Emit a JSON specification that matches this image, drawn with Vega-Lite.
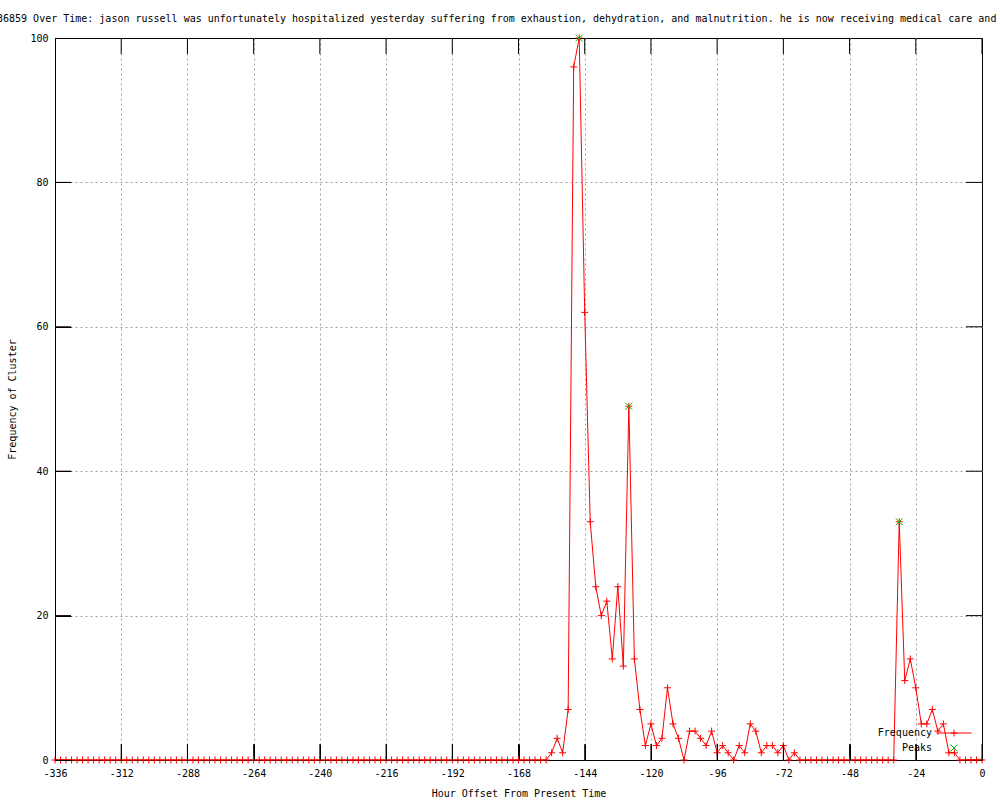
{
  "$schema": "https://vega.github.io/schema/vega-lite/v6.json",
  "autosize": {"type": "none"},
  "width": 927,
  "height": 722,
  "padding": {"left": 55, "top": 38, "right": 18, "bottom": 40},
  "background": "white",
  "config": {
    "view": {"stroke": "black", "strokeWidth": 1},
    "font": "DejaVu Sans Mono",
    "axis": {
      "labelFont": "DejaVu Sans Mono",
      "labelFontSize": 10,
      "labelColor": "black",
      "titleFont": "DejaVu Sans Mono",
      "titleFontSize": 10,
      "titleFontWeight": "normal",
      "titleColor": "black",
      "domainColor": "black",
      "gridColor": "#a0a0a0",
      "gridDash": [2, 3],
      "gridOpacity": 1,
      "gridWidth": 1
    }
  },
  "title": {
    "text": "36859 Over Time: jason russell was unfortunately hospitalized yesterday suffering from exhaustion, dehydration, and malnutrition. he is now receiving medical care and",
    "anchor": "start",
    "frame": "group",
    "font": "DejaVu Sans Mono",
    "fontSize": 10,
    "fontWeight": "normal",
    "color": "black",
    "dx": -58,
    "baseline": "alphabetic",
    "offset": 1
  },
  "datasets": {
    "xticks": [
      {"h": -336}, {"h": -312}, {"h": -288}, {"h": -264}, {"h": -240}, {"h": -216}, {"h": -192}, {"h": -168},
      {"h": -144}, {"h": -120}, {"h": -96}, {"h": -72}, {"h": -48}, {"h": -24}, {"h": 0}
    ],
    "yticks": [
      {"f": 0}, {"f": 20}, {"f": 40}, {"f": 60}, {"f": 80}, {"f": 100}
    ],
    "freq": [
      {"h": -336, "f": 0, "s": "Frequency"}, {"h": -334, "f": 0, "s": "Frequency"}, {"h": -332, "f": 0, "s": "Frequency"}, {"h": -330, "f": 0, "s": "Frequency"},
      {"h": -328, "f": 0, "s": "Frequency"}, {"h": -326, "f": 0, "s": "Frequency"}, {"h": -324, "f": 0, "s": "Frequency"}, {"h": -322, "f": 0, "s": "Frequency"},
      {"h": -320, "f": 0, "s": "Frequency"}, {"h": -318, "f": 0, "s": "Frequency"}, {"h": -316, "f": 0, "s": "Frequency"}, {"h": -314, "f": 0, "s": "Frequency"},
      {"h": -312, "f": 0, "s": "Frequency"}, {"h": -310, "f": 0, "s": "Frequency"}, {"h": -308, "f": 0, "s": "Frequency"}, {"h": -306, "f": 0, "s": "Frequency"},
      {"h": -304, "f": 0, "s": "Frequency"}, {"h": -302, "f": 0, "s": "Frequency"}, {"h": -300, "f": 0, "s": "Frequency"}, {"h": -298, "f": 0, "s": "Frequency"},
      {"h": -296, "f": 0, "s": "Frequency"}, {"h": -294, "f": 0, "s": "Frequency"}, {"h": -292, "f": 0, "s": "Frequency"}, {"h": -290, "f": 0, "s": "Frequency"},
      {"h": -288, "f": 0, "s": "Frequency"}, {"h": -286, "f": 0, "s": "Frequency"}, {"h": -284, "f": 0, "s": "Frequency"}, {"h": -282, "f": 0, "s": "Frequency"},
      {"h": -280, "f": 0, "s": "Frequency"}, {"h": -278, "f": 0, "s": "Frequency"}, {"h": -276, "f": 0, "s": "Frequency"}, {"h": -274, "f": 0, "s": "Frequency"},
      {"h": -272, "f": 0, "s": "Frequency"}, {"h": -270, "f": 0, "s": "Frequency"}, {"h": -268, "f": 0, "s": "Frequency"}, {"h": -266, "f": 0, "s": "Frequency"},
      {"h": -264, "f": 0, "s": "Frequency"}, {"h": -262, "f": 0, "s": "Frequency"}, {"h": -260, "f": 0, "s": "Frequency"}, {"h": -258, "f": 0, "s": "Frequency"},
      {"h": -256, "f": 0, "s": "Frequency"}, {"h": -254, "f": 0, "s": "Frequency"}, {"h": -252, "f": 0, "s": "Frequency"}, {"h": -250, "f": 0, "s": "Frequency"},
      {"h": -248, "f": 0, "s": "Frequency"}, {"h": -246, "f": 0, "s": "Frequency"}, {"h": -244, "f": 0, "s": "Frequency"}, {"h": -242, "f": 0, "s": "Frequency"},
      {"h": -240, "f": 0, "s": "Frequency"}, {"h": -238, "f": 0, "s": "Frequency"}, {"h": -236, "f": 0, "s": "Frequency"}, {"h": -234, "f": 0, "s": "Frequency"},
      {"h": -232, "f": 0, "s": "Frequency"}, {"h": -230, "f": 0, "s": "Frequency"}, {"h": -228, "f": 0, "s": "Frequency"}, {"h": -226, "f": 0, "s": "Frequency"},
      {"h": -224, "f": 0, "s": "Frequency"}, {"h": -222, "f": 0, "s": "Frequency"}, {"h": -220, "f": 0, "s": "Frequency"}, {"h": -218, "f": 0, "s": "Frequency"},
      {"h": -216, "f": 0, "s": "Frequency"}, {"h": -214, "f": 0, "s": "Frequency"}, {"h": -212, "f": 0, "s": "Frequency"}, {"h": -210, "f": 0, "s": "Frequency"},
      {"h": -208, "f": 0, "s": "Frequency"}, {"h": -206, "f": 0, "s": "Frequency"}, {"h": -204, "f": 0, "s": "Frequency"}, {"h": -202, "f": 0, "s": "Frequency"},
      {"h": -200, "f": 0, "s": "Frequency"}, {"h": -198, "f": 0, "s": "Frequency"}, {"h": -196, "f": 0, "s": "Frequency"}, {"h": -194, "f": 0, "s": "Frequency"},
      {"h": -192, "f": 0, "s": "Frequency"}, {"h": -190, "f": 0, "s": "Frequency"}, {"h": -188, "f": 0, "s": "Frequency"}, {"h": -186, "f": 0, "s": "Frequency"},
      {"h": -184, "f": 0, "s": "Frequency"}, {"h": -182, "f": 0, "s": "Frequency"}, {"h": -180, "f": 0, "s": "Frequency"}, {"h": -178, "f": 0, "s": "Frequency"},
      {"h": -176, "f": 0, "s": "Frequency"}, {"h": -174, "f": 0, "s": "Frequency"}, {"h": -172, "f": 0, "s": "Frequency"}, {"h": -170, "f": 0, "s": "Frequency"},
      {"h": -168, "f": 0, "s": "Frequency"}, {"h": -166, "f": 0, "s": "Frequency"}, {"h": -164, "f": 0, "s": "Frequency"}, {"h": -162, "f": 0, "s": "Frequency"},
      {"h": -160, "f": 0, "s": "Frequency"}, {"h": -158, "f": 0, "s": "Frequency"}, {"h": -156, "f": 1, "s": "Frequency"}, {"h": -154, "f": 3, "s": "Frequency"},
      {"h": -152, "f": 1, "s": "Frequency"}, {"h": -150, "f": 7, "s": "Frequency"}, {"h": -148, "f": 96, "s": "Frequency"}, {"h": -146, "f": 100, "s": "Frequency"},
      {"h": -144, "f": 62, "s": "Frequency"}, {"h": -142, "f": 33, "s": "Frequency"}, {"h": -140, "f": 24, "s": "Frequency"}, {"h": -138, "f": 20, "s": "Frequency"},
      {"h": -136, "f": 22, "s": "Frequency"}, {"h": -134, "f": 14, "s": "Frequency"}, {"h": -132, "f": 24, "s": "Frequency"}, {"h": -130, "f": 13, "s": "Frequency"},
      {"h": -128, "f": 49, "s": "Frequency"}, {"h": -126, "f": 14, "s": "Frequency"}, {"h": -124, "f": 7, "s": "Frequency"}, {"h": -122, "f": 2, "s": "Frequency"},
      {"h": -120, "f": 5, "s": "Frequency"}, {"h": -118, "f": 2, "s": "Frequency"}, {"h": -116, "f": 3, "s": "Frequency"}, {"h": -114, "f": 10, "s": "Frequency"},
      {"h": -112, "f": 5, "s": "Frequency"}, {"h": -110, "f": 3, "s": "Frequency"}, {"h": -108, "f": 0, "s": "Frequency"}, {"h": -106, "f": 4, "s": "Frequency"},
      {"h": -104, "f": 4, "s": "Frequency"}, {"h": -102, "f": 3, "s": "Frequency"}, {"h": -100, "f": 2, "s": "Frequency"}, {"h": -98, "f": 4, "s": "Frequency"},
      {"h": -96, "f": 1, "s": "Frequency"}, {"h": -94, "f": 2, "s": "Frequency"}, {"h": -92, "f": 1, "s": "Frequency"}, {"h": -90, "f": 0, "s": "Frequency"},
      {"h": -88, "f": 2, "s": "Frequency"}, {"h": -86, "f": 1, "s": "Frequency"}, {"h": -84, "f": 5, "s": "Frequency"}, {"h": -82, "f": 4, "s": "Frequency"},
      {"h": -80, "f": 1, "s": "Frequency"}, {"h": -78, "f": 2, "s": "Frequency"}, {"h": -76, "f": 2, "s": "Frequency"}, {"h": -74, "f": 1, "s": "Frequency"},
      {"h": -72, "f": 2, "s": "Frequency"}, {"h": -70, "f": 0, "s": "Frequency"}, {"h": -68, "f": 1, "s": "Frequency"}, {"h": -66, "f": 0, "s": "Frequency"},
      {"h": -64, "f": 0, "s": "Frequency"}, {"h": -62, "f": 0, "s": "Frequency"}, {"h": -60, "f": 0, "s": "Frequency"}, {"h": -58, "f": 0, "s": "Frequency"},
      {"h": -56, "f": 0, "s": "Frequency"}, {"h": -54, "f": 0, "s": "Frequency"}, {"h": -52, "f": 0, "s": "Frequency"}, {"h": -50, "f": 0, "s": "Frequency"},
      {"h": -48, "f": 0, "s": "Frequency"}, {"h": -46, "f": 0, "s": "Frequency"}, {"h": -44, "f": 0, "s": "Frequency"}, {"h": -42, "f": 0, "s": "Frequency"},
      {"h": -40, "f": 0, "s": "Frequency"}, {"h": -38, "f": 0, "s": "Frequency"}, {"h": -36, "f": 0, "s": "Frequency"}, {"h": -34, "f": 0, "s": "Frequency"},
      {"h": -32, "f": 0, "s": "Frequency"}, {"h": -30, "f": 33, "s": "Frequency"}, {"h": -28, "f": 11, "s": "Frequency"}, {"h": -26, "f": 14, "s": "Frequency"},
      {"h": -24, "f": 10, "s": "Frequency"}, {"h": -22, "f": 5, "s": "Frequency"}, {"h": -20, "f": 5, "s": "Frequency"}, {"h": -18, "f": 7, "s": "Frequency"},
      {"h": -16, "f": 4, "s": "Frequency"}, {"h": -14, "f": 5, "s": "Frequency"}, {"h": -12, "f": 1, "s": "Frequency"}, {"h": -10, "f": 1, "s": "Frequency"},
      {"h": -8, "f": 0, "s": "Frequency"}, {"h": -6, "f": 0, "s": "Frequency"}, {"h": -4, "f": 0, "s": "Frequency"}, {"h": -2, "f": 0, "s": "Frequency"},
      {"h": 0, "f": 0, "s": "Frequency"}
    ],
    "peaks": [
      {"h": -146, "f": 100, "s": "Peaks"},
      {"h": -128, "f": 49, "s": "Peaks"},
      {"h": -30, "f": 33, "s": "Peaks"}
    ]
  },
  "layer": [
    {
      "data": {"name": "xticks"},
      "mark": {"type": "tick", "orient": "vertical", "size": 32, "thickness": 1, "color": "black", "opacity": 1, "clip": true},
      "encoding": {
        "x": {"field": "h", "type": "quantitative", "axis": null},
        "y": {"datum": 0, "type": "quantitative", "axis": null}
      }
    },
    {
      "data": {"name": "xticks"},
      "mark": {"type": "tick", "orient": "vertical", "size": 32, "thickness": 1, "color": "black", "opacity": 1, "clip": true},
      "encoding": {
        "x": {"field": "h", "type": "quantitative", "axis": null},
        "y": {"datum": 100, "type": "quantitative", "axis": null}
      }
    },
    {
      "data": {"name": "yticks"},
      "mark": {"type": "tick", "orient": "horizontal", "size": 32, "thickness": 1, "color": "black", "opacity": 1, "clip": true},
      "encoding": {
        "x": {"datum": -336, "type": "quantitative", "axis": null},
        "y": {"field": "f", "type": "quantitative", "axis": null}
      }
    },
    {
      "data": {"name": "yticks"},
      "mark": {"type": "tick", "orient": "horizontal", "size": 32, "thickness": 1, "color": "black", "opacity": 1, "clip": true},
      "encoding": {
        "x": {"datum": 0, "type": "quantitative", "axis": null},
        "y": {"field": "f", "type": "quantitative", "axis": null}
      }
    },
    {
      "data": {"name": "freq"},
      "mark": {"type": "line", "strokeWidth": 1, "clip": true},
      "encoding": {
        "x": {
          "field": "h", "type": "quantitative",
          "scale": {"domain": [-336, 0], "nice": false, "zero": false},
          "axis": {
            "orient": "bottom",
            "values": [-336, -312, -288, -264, -240, -216, -192, -168, -144, -120, -96, -72, -48, -24, 0],
            "labelExpr": "'' + datum.value",
            "offset": -16,
            "ticks": true,
            "tickSize": 16,
            "tickColor": "black",
            "labelPadding": 8,
            "grid": false,
            "domain": false,
            "zindex": 1,
            "title": "Hour Offset From Present Time",
            "titlePadding": 10,
            "labelFlush": false,
            "labelOverlap": false
          }
        },
        "y": {
          "field": "f", "type": "quantitative",
          "scale": {"domain": [0, 100], "nice": false},
          "axis": {
            "orient": "left",
            "values": [0, 20, 40, 60, 80, 100],
            "offset": -16,
            "ticks": true,
            "tickSize": 16,
            "tickColor": "black",
            "labelPadding": 7,
            "grid": false,
            "domain": false,
            "zindex": 1,
            "title": "Frequency of Cluster",
            "titlePadding": 12,
            "labelFlush": false,
            "labelOverlap": false
          }
        },
        "color": {
          "field": "s", "type": "nominal",
          "scale": {"domain": ["Frequency", "Peaks"], "range": ["#ff0000", "#00c000"]},
          "legend": {
            "orient": "none",
            "legendX": 894,
            "legendY": 690,
            "direction": "vertical",
            "title": null,
            "padding": 0,
            "labelAlign": "right",
            "labelOffset": -27,
            "labelFont": "DejaVu Sans Mono",
            "labelFontSize": 10,
            "labelColor": "black",
            "rowPadding": 3,
            "symbolSize": 49,
            "encode": {
              "symbols": {
                "update": {
                  "shape": {"signal": "datum.value === 'Frequency' ? 'M-5,0H5M0,-1V1M-1,0H1' : 'M-1,-1L1,1M1,-1L-1,1'"},
                  "stroke": {"signal": "datum.value === 'Frequency' ? '#ff0000' : '#00c000'"},
                  "fill": {"value": "transparent"},
                  "strokeWidth": {"value": 1},
                  "size": {"value": 49},
                  "opacity": {"value": 1}
                }
              }
            }
          }
        }
      }
    },
    {
      "data": {"name": "freq"},
      "mark": {"type": "point", "shape": "M-1,0H1M0,-1V1", "filled": false, "size": 49, "strokeWidth": 1, "opacity": 1},
      "encoding": {
        "x": {"field": "h", "type": "quantitative", "axis": null},
        "y": {"field": "f", "type": "quantitative", "axis": null},
        "color": {"field": "s", "type": "nominal"}
      }
    },
    {
      "data": {"name": "peaks"},
      "mark": {"type": "point", "shape": "M-1,-1L1,1M1,-1L-1,1", "filled": false, "size": 49, "strokeWidth": 1, "opacity": 1},
      "encoding": {
        "x": {
          "field": "h", "type": "quantitative",
          "axis": {"orient": "bottom", "values": [-312, -288, -264, -240, -216, -192, -168, -144, -120, -96, -72, -48, -24], "ticks": false, "labels": false, "domain": false, "grid": true, "zindex": 0, "title": null}
        },
        "y": {
          "field": "f", "type": "quantitative",
          "axis": {"orient": "left", "values": [20, 40, 60, 80], "ticks": false, "labels": false, "domain": false, "grid": true, "zindex": 0, "title": null}
        },
        "color": {"field": "s", "type": "nominal"}
      }
    }
  ],
  "resolve": {"axis": {"x": "independent", "y": "independent"}}
}
